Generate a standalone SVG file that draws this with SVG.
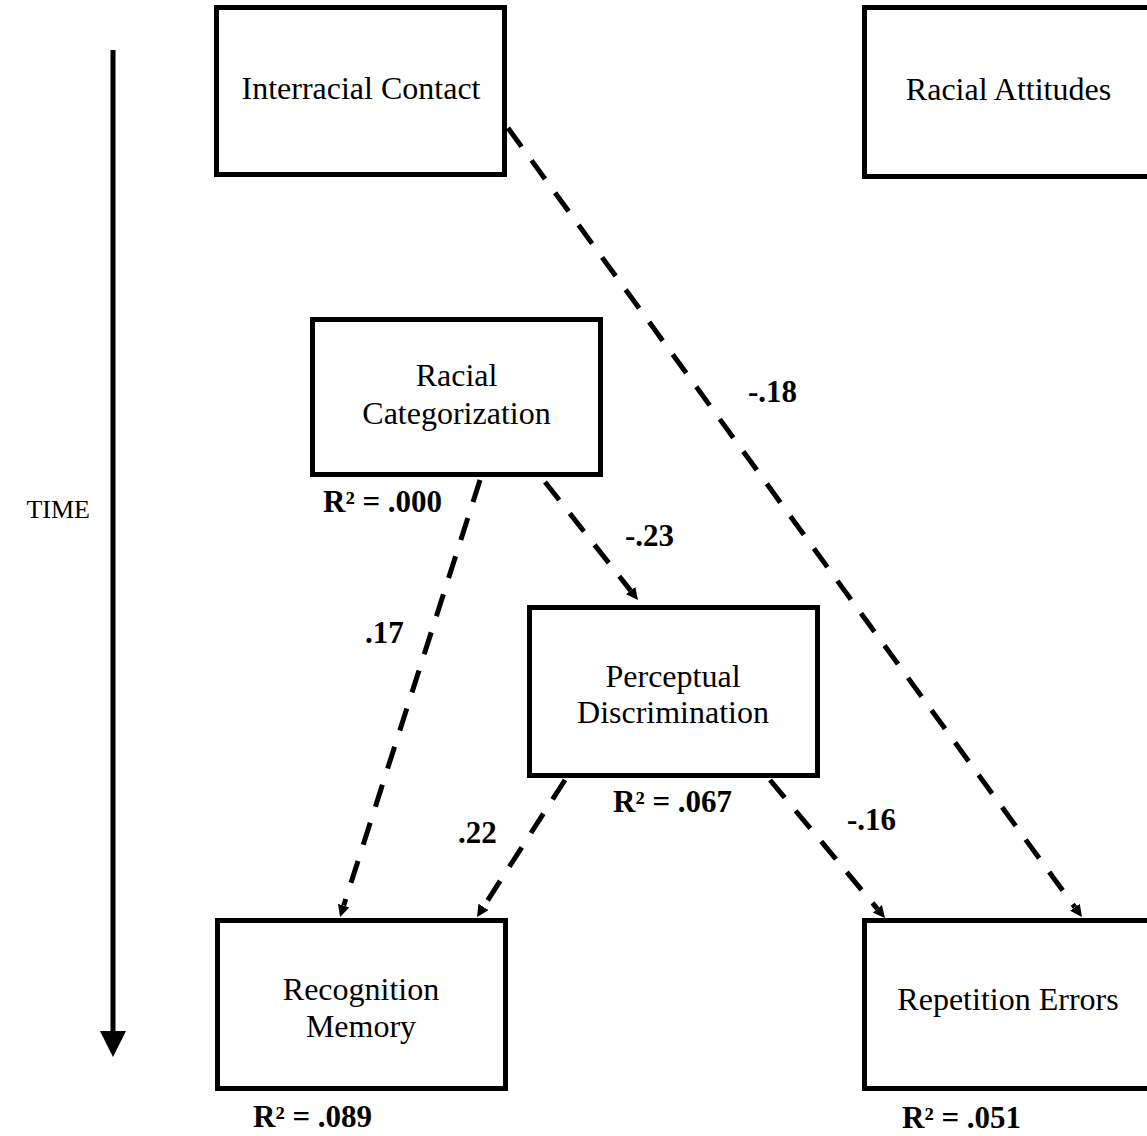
<svg xmlns="http://www.w3.org/2000/svg" width="1147" height="1136" viewBox="0 0 1147 1136">
<defs>
<style>
.box{fill:#fff;stroke:#000;stroke-width:5}
.lbl{font-family:"Liberation Serif","Times New Roman",serif;font-size:32px;fill:#000;text-anchor:middle}
.num{font-family:"Liberation Serif","Times New Roman",serif;font-size:31px;font-weight:bold;fill:#000}
.dash{fill:none;stroke:#000;stroke-width:5;stroke-dasharray:23 17;marker-end:url(#ah)}
</style>
<marker id="ah" markerUnits="userSpaceOnUse" markerWidth="12" markerHeight="12" viewBox="0 0 12 12" refX="0" refY="6" orient="auto">
<path d="M0,0 L12,6 L0,12 z" fill="#000"/>
</marker>
</defs>
<rect width="1147" height="1136" fill="#fff"/>

<g id="time">
<line x1="113" y1="50" x2="113" y2="1033" stroke="#000" stroke-width="5"/>
<polygon points="100,1031 126,1031 113,1057" fill="#000"/>
<text x="90" y="518" style="font-family:'Liberation Serif','Times New Roman',serif;font-size:26px;text-anchor:end">TIME</text>
</g>

<g id="connectors">
<path class="dash" d="M508,128 L1074.9,907.3"/>
<path class="dash" d="M480,480 L343.7,905.6"/>
<path class="dash" d="M545,482 L630.6,590.6"/>
<path class="dash" d="M565,780 L483.5,906.9"/>
<path class="dash" d="M770,780 L877.3,908.8"/>
</g>

<g id="interracial-contact">
<rect class="box" x="216.5" y="7.5" width="288" height="167"/>
<text class="lbl" x="361" y="99">Interracial Contact</text>
</g>

<g id="racial-attitudes">
<rect class="box" x="864.5" y="7.5" width="300" height="169"/>
<text class="lbl" x="1008.5" y="100">Racial Attitudes</text>
</g>

<g id="racial-categorization">
<rect class="box" x="312.5" y="319.5" width="288" height="155"/>
<text class="lbl" x="456.5" y="386">Racial</text>
<text class="lbl" x="456.5" y="424">Categorization</text>
<text class="num" x="323" y="512">R² = .000</text>
</g>

<g id="perceptual-discrimination">
<rect class="box" x="529.5" y="607.5" width="288" height="168"/>
<text class="lbl" x="673" y="687">Perceptual</text>
<text class="lbl" x="673" y="723">Discrimination</text>
<text class="num" x="613" y="812">R² = .067</text>
</g>

<g id="recognition-memory">
<rect class="box" x="217.5" y="920.5" width="288" height="168"/>
<text class="lbl" x="361" y="1000">Recognition</text>
<text class="lbl" x="361" y="1037">Memory</text>
<text class="num" x="253" y="1127">R² = .089</text>
</g>

<g id="repetition-errors">
<rect class="box" x="864.5" y="920.5" width="300" height="168"/>
<text class="lbl" x="1008" y="1010">Repetition Errors</text>
<text class="num" x="902" y="1128">R² = .051</text>
</g>

<g id="path-labels">
<text class="num" x="748" y="402">-.18</text>
<text class="num" x="625" y="546">-.23</text>
<text class="num" x="365" y="643">.17</text>
<text class="num" x="458" y="843">.22</text>
<text class="num" x="847" y="830">-.16</text>
</g>
</svg>
